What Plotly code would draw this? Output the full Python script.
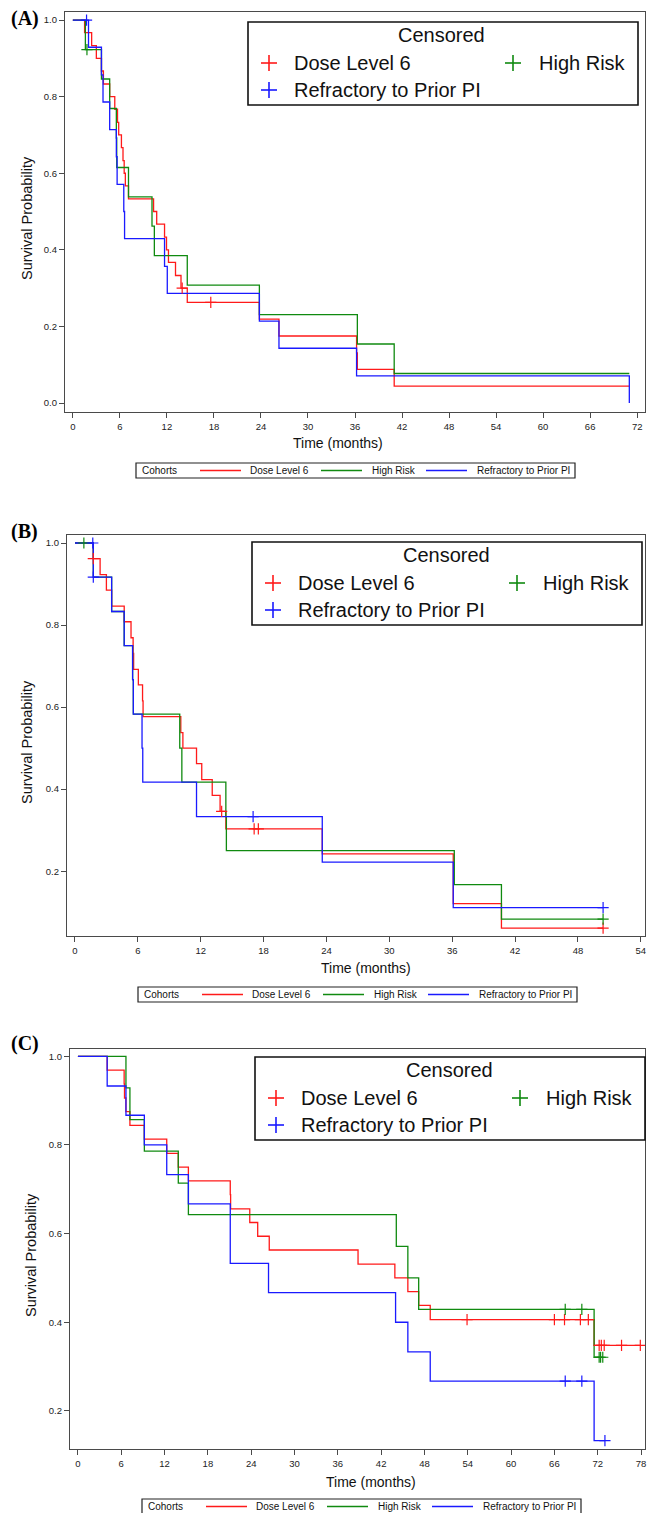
import plotly.graph_objects as go

W, H = 647, 1513

cohorts = ["Dose Level 6", "High Risk", "Refractory to Prior PI"]
panel_labels = ["(A)", "(B)", "(C)"]
legend_title = "Censored"
cohort_title = "Cohorts"
x_title = "Time (months)"
y_title = "Survival Probability"

# ---------------- Panel A ----------------
a_dose_t = [1.5, 2.4, 3.0, 3.65, 3.9, 4.7, 5.35, 5.7, 5.85, 6.2, 6.4, 6.55, 6.7, 7.1, 10.3, 10.7,
            11.7, 11.95, 12.2, 13.1, 13.8, 14.6, 23.8, 26.3, 36.2, 36.3, 41.0]
a_dose_s = [0.967, 0.933, 0.900, 0.867, 0.833, 0.800, 0.767, 0.733, 0.700, 0.667, 0.633, 0.600,
            0.567, 0.533, 0.500, 0.467, 0.433, 0.400, 0.367, 0.333, 0.300, 0.263, 0.219, 0.175,
            0.131, 0.088, 0.044]
a_dose_end = 71.0
a_dose_cens = [13.95, 17.6]

a_high_t = [1.6, 3.65, 4.7, 5.55, 5.6, 7.1, 10.1, 10.4, 14.6, 23.8, 36.3, 41.0]
a_high_s = [0.923, 0.846, 0.769, 0.692, 0.615, 0.538, 0.462, 0.385, 0.308, 0.231, 0.154, 0.077]
a_high_end = 71.0
a_high_cens = [1.8]

a_refr_t = [2.0, 3.65, 3.85, 4.7, 5.55, 5.65, 6.5, 6.6, 11.7, 12.05, 23.8, 26.3, 36.2, 71.0]
a_refr_s = [0.929, 0.857, 0.786, 0.714, 0.643, 0.571, 0.500, 0.429, 0.357, 0.286, 0.214, 0.143,
            0.071, 0.000]
a_refr_end = 71.0
a_refr_cens = [1.75]

a_xticks = list(range(0, 73, 6))
a_yticks = [0.0, 0.2, 0.4, 0.6, 0.8, 1.0]

# ---------------- Panel B ----------------
b_dose_t = [1.75, 2.4, 3.0, 3.5, 4.7, 5.35, 5.55, 5.6, 6.05, 6.45, 6.5, 10.1, 10.3, 11.6, 12.1,
            13.1, 13.85, 14.4, 23.6, 36.1, 40.7]
b_dose_s = [0.962, 0.923, 0.885, 0.846, 0.808, 0.769, 0.731, 0.692, 0.654, 0.615, 0.577, 0.538,
            0.500, 0.462, 0.423, 0.385, 0.346, 0.303, 0.242, 0.121, 0.061]
b_dose_end = 50.4
b_dose_cens = [1.75, 14.0, 17.1, 17.5, 50.4]

b_high_t = [1.75, 3.5, 4.7, 5.5, 5.57, 10.0, 10.2, 14.4, 14.45, 36.2, 40.7]
b_high_s = [0.917, 0.833, 0.750, 0.667, 0.583, 0.500, 0.417, 0.333, 0.250, 0.167, 0.083]
b_high_end = 50.4
b_high_cens = [0.85, 50.4]

b_refr_t = [1.75, 3.5, 4.7, 5.5, 5.57, 6.4, 6.47, 11.6, 23.6, 36.1]
b_refr_s = [0.917, 0.833, 0.750, 0.667, 0.583, 0.500, 0.417, 0.333, 0.222, 0.111]
b_refr_end = 50.4
b_refr_cens = [1.7, 1.75, 17.0, 50.4]

b_xticks = list(range(0, 55, 6))
b_yticks = [0.2, 0.4, 0.6, 0.8, 1.0]

# ---------------- Panel C ----------------
c_dose_t = [4.05, 6.4, 6.45, 6.65, 7.2, 9.2, 12.3, 13.9, 15.3, 21.1, 21.15, 23.8, 24.9, 26.5,
            38.8, 43.9, 45.7, 47.2, 48.8, 71.5]
c_dose_s = [0.969, 0.938, 0.906, 0.875, 0.844, 0.813, 0.781, 0.750, 0.719, 0.688, 0.656, 0.625,
            0.594, 0.563, 0.531, 0.500, 0.469, 0.438, 0.406, 0.348]
c_dose_end = 77.9
c_dose_cens = [53.9, 66.0, 67.4, 69.6, 70.7, 72.2, 72.5, 72.9, 75.3, 77.9]

c_high_t = [6.65, 7.2, 9.2, 13.9, 15.3, 44.1, 45.7, 47.2, 71.5]
c_high_s = [0.929, 0.857, 0.786, 0.714, 0.643, 0.571, 0.500, 0.429, 0.321]
c_high_end = 72.7
c_high_cens = [67.5, 69.8, 72.2, 72.4, 72.7]

c_refr_t = [4.05, 6.65, 9.2, 12.3, 15.3, 21.1, 26.4, 44.0, 45.7, 48.8, 71.5]
c_refr_s = [0.933, 0.867, 0.800, 0.733, 0.667, 0.533, 0.467, 0.400, 0.333, 0.267, 0.133]
c_refr_end = 73.0
c_refr_cens = [67.5, 69.8, 73.0]

c_xticks = list(range(0, 79, 6))
c_yticks = [0.2, 0.4, 0.6, 0.8, 1.0]

# ---------------- styling / layout ----------------
COLORS = ["#ff1a1a", "#108a10", "#1a1aff"]
FONT = "Liberation Sans, Arial, sans-serif"
AXC = "#4a4a4a"


def px(x):
    return x / W


def py(y):
    return 1 - y / H


panels = [
    dict(series=[(a_dose_t, a_dose_s, a_dose_end, a_dose_cens),
                 (a_high_t, a_high_s, a_high_end, a_high_cens),
                 (a_refr_t, a_refr_s, a_refr_end, a_refr_cens)],
         xticks=a_xticks, yticks=a_yticks, xr=[-1.0, 73.0], yr=[-0.0235, 1.021],
         box=(65, 12, 645, 412), lab=(25, 19), xt=(338, 443), yt=(27, 218),
         leg=(248, 22, 638, 105), coh=(136, 463)),
    dict(series=[(b_dose_t, b_dose_s, b_dose_end, b_dose_cens),
                 (b_high_t, b_high_s, b_high_end, b_high_cens),
                 (b_refr_t, b_refr_s, b_refr_end, b_refr_cens)],
         xticks=b_xticks, yticks=b_yticks, xr=[-0.76, 54.4], yr=[0.042, 1.0195],
         box=(67, 535, 645, 936), lab=(24, 532), xt=(366, 968), yt=(27, 742),
         leg=(252, 542, 642, 625), coh=(138, 987)),
    dict(series=[(c_dose_t, c_dose_s, c_dose_end, c_dose_cens),
                 (c_high_t, c_high_s, c_high_end, c_high_cens),
                 (c_refr_t, c_refr_s, c_refr_end, c_refr_cens)],
         xticks=c_xticks, yticks=c_yticks, xr=[-1.1, 78.55], yr=[0.114, 1.0165],
         box=(70, 1049, 645, 1449), lab=(25, 1043), xt=(371, 1482), yt=(31, 1255),
         leg=(255, 1057, 645, 1140), coh=(142, 1499)),
]


def surv_at(times, surv, t):
    val = 1.0
    for ti, si in zip(times, surv):
        if ti <= t:
            val = si
    return val


fig = go.Figure()
shapes = []
annots = []
layout_axes = {}

for i, p in enumerate(panels):
    sfx = "" if i == 0 else str(i + 1)
    xref = "x" + sfx
    yref = "y" + sfx
    for k, (t, s, end, cens) in enumerate(p["series"]):
        xs = [0.0] + list(t) + [end]
        ys = [1.0] + list(s) + [s[-1]]
        fig.add_trace(go.Scatter(x=xs, y=ys, mode="lines", line=dict(color=COLORS[k], width=1.3, shape="hv"),
                                 xaxis=xref, yaxis=yref, showlegend=False, hoverinfo="skip",
                                 name=cohorts[k]))
    for k, (t, s, end, cens) in enumerate(p["series"]):
        cy = [surv_at(t, s, c) for c in cens]
        fig.add_trace(go.Scatter(x=cens, y=cy, mode="markers",
                                 marker=dict(symbol="cross-thin", size=8,
                                             line=dict(color=COLORS[k], width=1.2)),
                                 xaxis=xref, yaxis=yref, showlegend=False, hoverinfo="skip",
                                 name=cohorts[k] + " censored"))
    x0, y0, x1, y1 = p["box"]
    common = dict(showline=True, linecolor=AXC, linewidth=1.2, mirror=True, ticks="outside",
                  ticklen=5, tickwidth=1, tickcolor=AXC, showgrid=False, zeroline=False,
                  tickfont=dict(family=FONT, size=9.5, color="#222"))
    layout_axes["xaxis" + sfx] = dict(domain=[px(x0), px(x1)], range=p["xr"], tickvals=p["xticks"],
                                      anchor=yref, **common)
    layout_axes["yaxis" + sfx] = dict(domain=[py(y1), py(y0)], range=p["yr"], tickvals=p["yticks"],
                                      tickformat=".1f", anchor=xref, **common)

    # panel label
    annots.append(dict(x=px(p["lab"][0]), y=py(p["lab"][1]), xref="paper", yref="paper",
                       text="<b>" + panel_labels[i] + "</b>", showarrow=False, xanchor="center",
                       yanchor="middle", font=dict(family="Liberation Serif, Times New Roman, serif",
                                                   size=20, color="black")))
    # axis titles
    annots.append(dict(x=px(p["xt"][0]), y=py(p["xt"][1]), xref="paper", yref="paper", text=x_title,
                       showarrow=False, xanchor="center", yanchor="middle",
                       font=dict(family=FONT, size=14, color="#111")))
    annots.append(dict(x=px(p["yt"][0]), y=py(p["yt"][1]), xref="paper", yref="paper", text=y_title,
                       showarrow=False, xanchor="center", yanchor="middle", textangle=-90,
                       font=dict(family=FONT, size=14.5, color="#111")))

    # censored legend (inside)
    lx0, ly0, lx1, ly1 = p["leg"]
    shapes.append(dict(type="rect", xref="paper", yref="paper", x0=px(lx0), x1=px(lx1),
                       y0=py(ly1), y1=py(ly0), line=dict(color="#111", width=1.6),
                       fillcolor="white", layer="above"))
    annots.append(dict(x=px(lx0 + 194), y=py(ly0 + 13), xref="paper", yref="paper", text=legend_title,
                       showarrow=False, xanchor="center", yanchor="middle",
                       font=dict(family=FONT, size=20, color="#111")))
    entries = [(0, lx0 + 21, lx0 + 44, ly0 + 41), (1, lx0 + 265, lx0 + 289, ly0 + 41),
               (2, lx0 + 21, lx0 + 44, ly0 + 68)]
    for k, mx, tx, ty in entries:
        shapes.append(dict(type="line", xref="paper", yref="paper", x0=px(mx - 8), x1=px(mx + 8),
                           y0=py(ty), y1=py(ty), line=dict(color=COLORS[k], width=1.6), layer="above"))
        shapes.append(dict(type="line", xref="paper", yref="paper", x0=px(mx), x1=px(mx),
                           y0=py(ty - 8), y1=py(ty + 8), line=dict(color=COLORS[k], width=1.6),
                           layer="above"))
        annots.append(dict(x=px(tx), y=py(ty), xref="paper", yref="paper", text=cohorts[k],
                           showarrow=False, xanchor="left", yanchor="middle",
                           font=dict(family=FONT, size=20, color="#111")))

    # cohorts legend (bottom)
    cx0, cy0 = p["coh"]
    shapes.append(dict(type="rect", xref="paper", yref="paper", x0=px(cx0), x1=px(cx0 + 439),
                       y0=py(cy0 + 15), y1=py(cy0), line=dict(color="#222", width=1.2)))
    cym = cy0 + 7.5
    annots.append(dict(x=px(cx0 + 4), y=py(cym), xref="paper", yref="paper", text=cohort_title,
                       showarrow=False, xanchor="left", yanchor="middle",
                       font=dict(family=FONT, size=10, color="#111")))
    items = [(0, 64, 112), (1, 185, 233.5), (2, 290, 339)]
    for k, lx, tx in items:
        shapes.append(dict(type="line", xref="paper", yref="paper", x0=px(cx0 + lx), x1=px(cx0 + lx + 41),
                           y0=py(cym), y1=py(cym), line=dict(color=COLORS[k], width=1.3)))
        annots.append(dict(x=px(cx0 + tx), y=py(cym), xref="paper", yref="paper", text=cohorts[k],
                           showarrow=False, xanchor="left", yanchor="middle",
                           font=dict(family=FONT, size=10, color="#111")))

fig.update_layout(width=W, height=H, margin=dict(l=0, r=0, t=0, b=0), paper_bgcolor="white",
                  plot_bgcolor="white", showlegend=False, shapes=shapes, annotations=annots,
                  font=dict(family=FONT), **layout_axes)

fig.write_html("out.html", config={"displayModeBar": False},
               post_script="document.body.style.margin='0px';document.body.style.overflow='hidden';")
